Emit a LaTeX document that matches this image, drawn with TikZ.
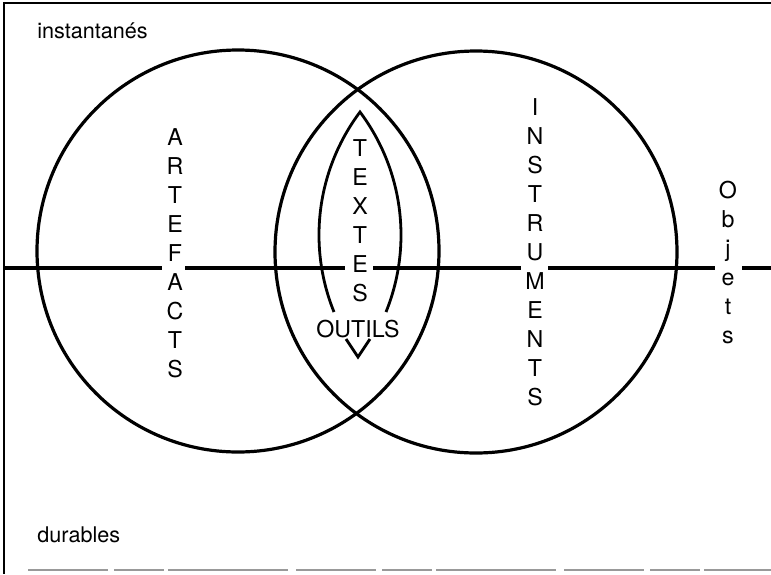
\documentclass[tikz,border=0pt]{standalone}
\usepackage{fontspec}
\setmainfont{TeX Gyre Heros}
\begin{document}
\begin{tikzpicture}[x=0.5pt,y=-0.5pt,
 trait/.style={line width=1.6pt,black},
 fin/.style={line width=1.4pt,black},
 lbl/.style={inner sep=0pt,font=\fontsize{10.8}{14.5}\selectfont},
 pile/.style={inner sep=0pt,align=center,font=\fontsize{11.6}{14.5}\selectfont}]
\useasboundingbox (0,0) rectangle (771,574);
% cadre
\draw[fin] (771,3) -- (4,3) -- (4,574);
\draw[line width=1pt,black!40,dash pattern=on 40pt off 3pt on 25pt off 2pt on 60pt off 4pt] (28,570) -- (771,570);
\node[lbl,anchor=base west] (instantanes) at (37,38) {instantanés};
\node[lbl,anchor=base west] (durables) at (37,542) {durables};

% les deux cercles
\coordinate (cArt) at (238,251);
\coordinate (cIns) at (476,252);
\draw[trait] (cArt) circle[radius=201];
\draw[trait] (cIns) circle[radius=201];

% lentille interieure et pointe
\draw[fin] (334,312) arc[start angle=157.94,end angle=216.87,radius=205]
  arc[start angle=-36.87,end angle=22.06,radius=205];
\draw[fin] (346,339) -- (358,357) -- (370,339);

% axe horizontal
\draw[trait] (4,268) -- (162,268) (185,268) -- (345,268) (373,268) -- (521,268)
  (548,268) -- (715,268) (742,268) -- (771,268);

\node[pile] (artefacts) at (175,253.5) {A\\R\\T\\E\\F\\A\\C\\T\\S};
\node[pile] (textes) at (360,220.5) {T\\E\\X\\T\\E\\S};
\node[pile,anchor=base] (outils) at (358,337) {OUTILS};
\node[pile] (instruments) at (535,252.5) {I\\N\\S\\T\\R\\U\\M\\E\\N\\T\\S};
\node[pile] (objets) at (728,263) {O\\b\\j\\e\\t\\s};
\end{tikzpicture}
\end{document}
